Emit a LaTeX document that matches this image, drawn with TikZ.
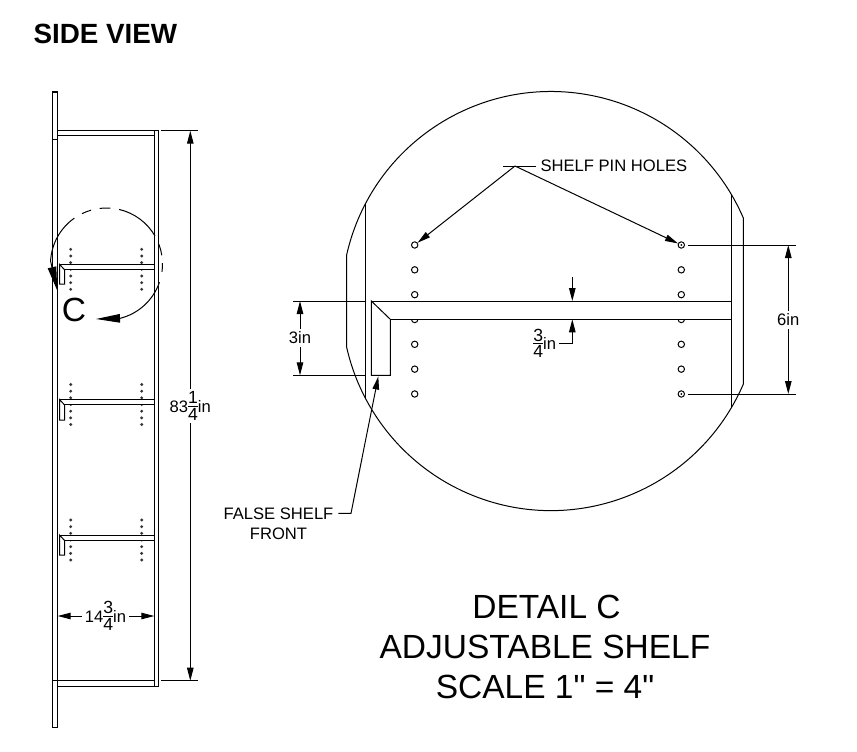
\documentclass[tikz,border=0pt]{standalone}
\usepackage{fontspec}
\setmainfont{Liberation Sans}
\newfontfamily\inchfont{Liberation Sans}
\usetikzlibrary{calc,arrows.meta}
\newcommand{\fracfont}{\fontsize{17.6}{20}\selectfont}
\newcommand{\dimfrac}[2]{\raisebox{1.8pt}{$\vcenter{\hbox{\fracfont #1}\kern1.6pt\hrule height .9pt\kern1.6pt\hbox{\fracfont #2}}$}}
\tikzset{
  dimtext/.style={inner sep=2.5pt,font=\fontsize{16.6}{20}\selectfont},
  dimarrow/.style={-{Triangle[length=13pt,width=6.5pt]}},
  viewarrow/.style={-{Triangle[length=24pt,width=8.5pt]}},
  pinhole/.style={draw,circle,inner sep=0pt,minimum size=6.4pt},
  bigtext/.style={inner sep=0pt,font=\fontsize{33.5}{40}\selectfont}
}
\begin{document}
\begin{tikzpicture}[x=1pt,y=-1pt,line width=1pt]
  \useasboundingbox (0,0) rectangle (857,752);
  \node[inner sep=0pt,anchor=west,font=\bfseries\fontsize{27.8}{32}\selectfont] (title) at (33,34) {SIDE VIEW};

  \draw (52.5,92) rectangle (57.7,727);
  \draw (52.5,139) -- (57.7,139);
  \draw (57.7,130.7) rectangle (154.3,135.7);
  \draw (154.3,130.7) rectangle (158.7,686);
  \draw (52.5,680.7) -- (154.3,680.7);
  \draw (57.7,686) -- (154.3,686);

  \foreach[evaluate={\s+5.4} as \b] \s/\f in {264.3/284,399.5/420,535/555} {
    \foreach[evaluate={\s-15+6.67*\j} as \h] \j in {0,...,6} {
      \fill[black!80] (70.7,\h) circle (1.6);
      \fill[black!80] (141.7,\h) circle (1.6);
    }
    \draw[fill=white] (59.5,\s) rectangle (154.3,\b);
    \draw[fill=white] (59.5,\s) -- (64.5,\b) -- (64.5,\f) -- (59.5,\f) -- cycle;
  }

  \coordinate (sidec) at (106.5,264);
  \foreach \a/\b in {244/254,263/274,283/330,339/351,359/368} {
    \draw ($ (sidec) + (\a:56) $) arc[start angle=\a,end angle=\b,radius=56];
  }
  \coordinate (tipleft) at (57.3,290.7);
  \coordinate (tipright) at (96,319);
  \draw[viewarrow] ($ (sidec) + (235:56) $) arc[start angle=235,end angle=183,radius=56] -- (tipleft);
  \draw[viewarrow] ($ (sidec) + (19:56) $) arc[start angle=19,end angle=76,radius=56] -- (tipright);
  \node[bigtext] (viewc) at (74,310) {C};

  \coordinate (hta) at (161,130.7);
  \coordinate (htb) at (198,130.7);
  \coordinate (hba) at (161,680.7);
  \coordinate (hbb) at (198,680.7);
  \coordinate (htip) at (190.3,130.7);
  \coordinate (hbot) at (190.3,680.7);
  \draw (hta) -- (htb);
  \draw (hba) -- (hbb);
  \node[dimtext] (lblheight) at (190.3,406) {83\dimfrac{1}{4}in};
  \draw[dimarrow] (lblheight) -- (htip);
  \draw[dimarrow] (lblheight) -- (hbot);

  \coordinate (wleft) at (57.7,616);
  \coordinate (wright) at (154.3,616);
  \node[dimtext] (lblwidth) at (105.5,616) {14\dimfrac{3}{4}in};
  \draw[dimarrow] (lblwidth) -- (wleft);
  \draw[dimarrow] (lblwidth) -- (wright);

  \coordinate (detailc) at (551,301);
  \draw ($ (detailc) + (192.7:209.5) $) arc[start angle=192.7,end angle=336.6,radius=209.5]
    -- ++(0,166.5) arc[start angle=23.4,end angle=167.3,radius=209.5] -- cycle;
  \draw (365.3,204) -- (365.3,398);
  \draw (731,194) -- (731,408);

  \foreach[evaluate={245+24.83*(\i-1)} as \y] \i in {1,...,7} {
    \node[pinhole] (hl\i) at (414.7,\y) {};
    \node[pinhole] (hr\i) at (681.3,\y) {};
  }
  \fill (hr1.center) circle (1);
  \fill (hr7.center) circle (1);

  \draw[fill=white] (371.3,301) rectangle (731,319.3);
  \draw[fill=white] (371.3,301) -- (390.3,319.3) -- (390.3,375.3) -- (371.3,375.3) -- cycle;

  \coordinate (pinleft) at (503.3,166);
  \coordinate (pinapex) at (515,166);
  \node[dimtext,inner sep=4pt,anchor=west] (lblpin) at (536,166) {SHELF PIN HOLES};
  \draw (pinleft) -- (lblpin.west);
  \draw[dimarrow] (pinapex) -- (hl1);
  \draw[dimarrow] (pinapex) -- (hr1);

  \coordinate (sixta) at (688.3,245);
  \coordinate (sixtb) at (795.7,245);
  \coordinate (sixba) at (688.3,394);
  \coordinate (sixbb) at (795.7,394);
  \coordinate (sixtip) at (788.3,245);
  \coordinate (sixbot) at (788.3,394);
  \draw (sixta) -- (sixtb);
  \draw (sixba) -- (sixbb);
  \node[dimtext] (lblsix) at (788.3,320) {6in};
  \draw[dimarrow] (lblsix) -- (sixtip);
  \draw[dimarrow] (lblsix) -- (sixbot);

  \coordinate (thickstart) at (572.3,277.3);
  \coordinate (thicktop) at (572.3,301);
  \coordinate (thickbot) at (572.3,319.3);
  \draw[dimarrow] (thickstart) -- (thicktop);
  \node[dimtext] (lblthick) at (544.7,343.3) {\dimfrac{3}{4}in};
  \draw[dimarrow] (lblthick.east) -| (thickbot);

  \coordinate (frta) at (293.3,301);
  \coordinate (frtb) at (365.3,301);
  \coordinate (frba) at (293.3,375.3);
  \coordinate (frbb) at (365.3,375.3);
  \coordinate (frtip) at (300,301);
  \coordinate (frbot) at (300,375.3);
  \draw (frta) -- (frtb);
  \draw (frba) -- (frbb);
  \node[dimtext] (lblfront) at (300,338) {3in};
  \draw[dimarrow] (lblfront) -- (frtip);
  \draw[dimarrow] (lblfront) -- (frbot);

  \coordinate (falsea) at (338.3,513.3);
  \coordinate (falseb) at (351,513.3);
  \coordinate (falsetip) at (378.3,376.5);
  \node[dimtext,align=center] (lblfalse) at (278.5,524) {FALSE SHELF\\FRONT};
  \draw[dimarrow] (falsea) -- (falseb) -- (falsetip);

  \node[bigtext] (detailname) at (546.5,607) {DETAIL C};
  \node[bigtext] (detailshelf) at (545,647) {ADJUSTABLE SHELF};
  \node[bigtext] (detailscale) at (545,687) {\inchfont SCALE 1" = 4"};
\end{tikzpicture}
\end{document}
